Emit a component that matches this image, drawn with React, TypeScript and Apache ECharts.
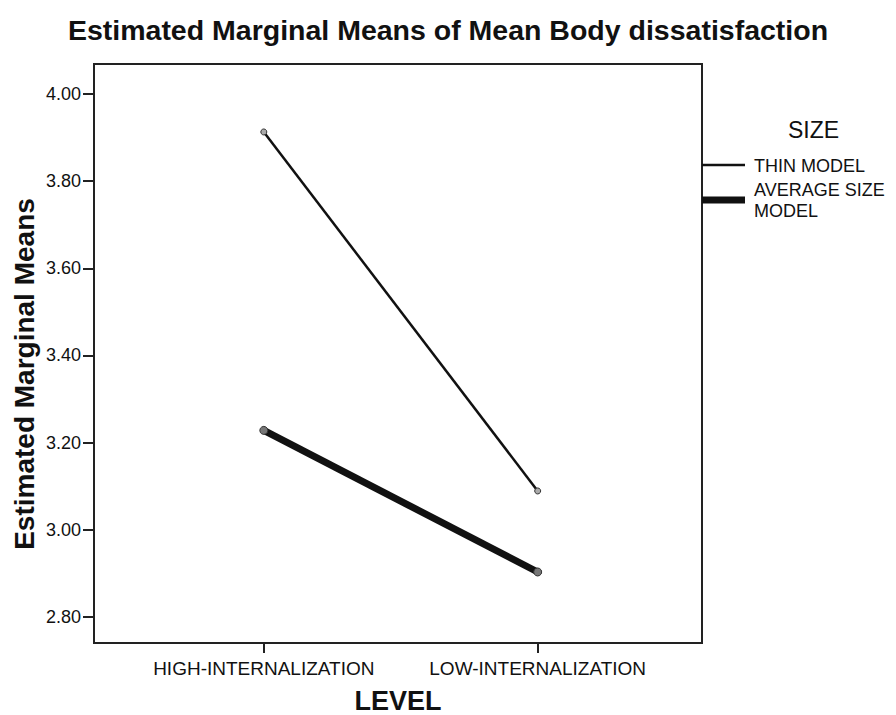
import React, { useEffect, useRef } from "react";
import * as echarts from "echarts";

const levels = ["HIGH-INTERNALIZATION", "LOW-INTERNALIZATION"];
const thinModel = [3.913, 3.089];
const averageSizeModel = [3.228, 2.903];
const yTicks = [2.8, 3.0, 3.2, 3.4, 3.6, 3.8, 4.0];

const FONT = "'Liberation Sans', Arial, sans-serif";

export default function App() {
  const ref = useRef<HTMLDivElement>(null);
  useEffect(() => {
    if (!ref.current) return;
    const chart = echarts.init(ref.current, undefined, { renderer: "svg" });
    const toData = (arr: number[]) => arr.map((v, i) => [i, v]);
    chart.setOption({
      animation: false,
      backgroundColor: "#ffffff",
      textStyle: { fontFamily: FONT },
      title: {
        text: "Estimated Marginal Means of Mean Body dissatisfaction",
        left: "center",
        top: 10,
        textStyle: { fontFamily: FONT, fontSize: 28.5, fontWeight: "bold", color: "#111" },
      },
      grid: {
        left: 94,
        top: 64,
        right: 194,
        bottom: 72,
        outerBoundsMode: "none",
        containLabel: false,
        show: true,
        borderColor: "#222",
        borderWidth: 2,
        backgroundColor: "transparent",
      },
      xAxis: {
        type: "value",
        min: -0.62,
        max: 1.6,
        name: "LEVEL",
        nameLocation: "middle",
        nameGap: 44,
        nameTextStyle: { fontFamily: FONT, fontSize: 27, fontWeight: "bold", color: "#111" },
        axisLine: { show: true, onZero: false, lineStyle: { color: "#222", width: 2 } },
        axisTick: { show: true, customValues: [0, 1], length: 10, lineStyle: { color: "#222", width: 2 } },
        axisLabel: {
          customValues: [0, 1],
          formatter: (v: number) => levels[Math.round(v)] ?? "",
          fontFamily: FONT,
          fontSize: 19,
          color: "#111",
          margin: 16,
        },
        splitLine: { show: false },
      },
      yAxis: {
        type: "value",
        min: 2.74,
        max: 4.069,
        axisLine: { show: true, onZero: false, lineStyle: { color: "#222", width: 2 } },
        axisTick: { show: true, customValues: yTicks, length: 11, lineStyle: { color: "#222", width: 2 } },
        axisLabel: {
          customValues: yTicks,
          formatter: (v: number) => v.toFixed(2),
          fontFamily: FONT,
          fontSize: 18,
          color: "#111",
          margin: 13,
        },
        splitLine: { show: false },
      },
      series: [
        {
          name: "THIN MODEL",
          type: "line",
          data: toData(thinModel),
          lineStyle: { color: "#111", width: 2.5 },
          symbol: "circle",
          symbolSize: 6,
          itemStyle: { color: "#aaa", borderColor: "#333", borderWidth: 1 },
          z: 3,
        },
        {
          name: "AVERAGE SIZE MODEL",
          type: "line",
          data: toData(averageSizeModel),
          lineStyle: { color: "#111", width: 7 },
          symbol: "circle",
          symbolSize: 8,
          itemStyle: { color: "#777", borderColor: "#333", borderWidth: 1 },
          z: 2,
        },
      ],
      graphic: [
        {
          type: "text",
          x: 24,
          y: 374,
          rotation: Math.PI / 2,
          style: {
            text: "Estimated Marginal Means",
            fontFamily: FONT,
            fontSize: 28,
            fontWeight: "bold",
            fill: "#111",
            align: "center",
            verticalAlign: "middle",
          },
        },
        {
          type: "text",
          left: 788,
          top: 118,
          style: { text: "SIZE", fontFamily: FONT, fontSize: 23, fill: "#111" },
        },
        {
          type: "line",
          shape: { x1: 702, y1: 165, x2: 745, y2: 165 },
          style: { stroke: "#111", lineWidth: 2.5 },
        },
        {
          type: "text",
          left: 754,
          top: 157,
          style: { text: "THIN MODEL", fontFamily: FONT, fontSize: 18, fill: "#111" },
        },
        {
          type: "line",
          shape: { x1: 702, y1: 200, x2: 745, y2: 200 },
          style: { stroke: "#111", lineWidth: 7 },
        },
        {
          type: "text",
          left: 754,
          top: 179,
          style: { text: "AVERAGE SIZE\nMODEL", fontFamily: FONT, fontSize: 18, lineHeight: 21, fill: "#111" },
        },
      ],
    });
    return () => chart.dispose();
  }, []);
  return (
    <div
      ref={ref}
      style={{ position: "fixed", left: 0, top: 0, width: 896, height: 715, background: "#fff" }}
    />
  );
}
